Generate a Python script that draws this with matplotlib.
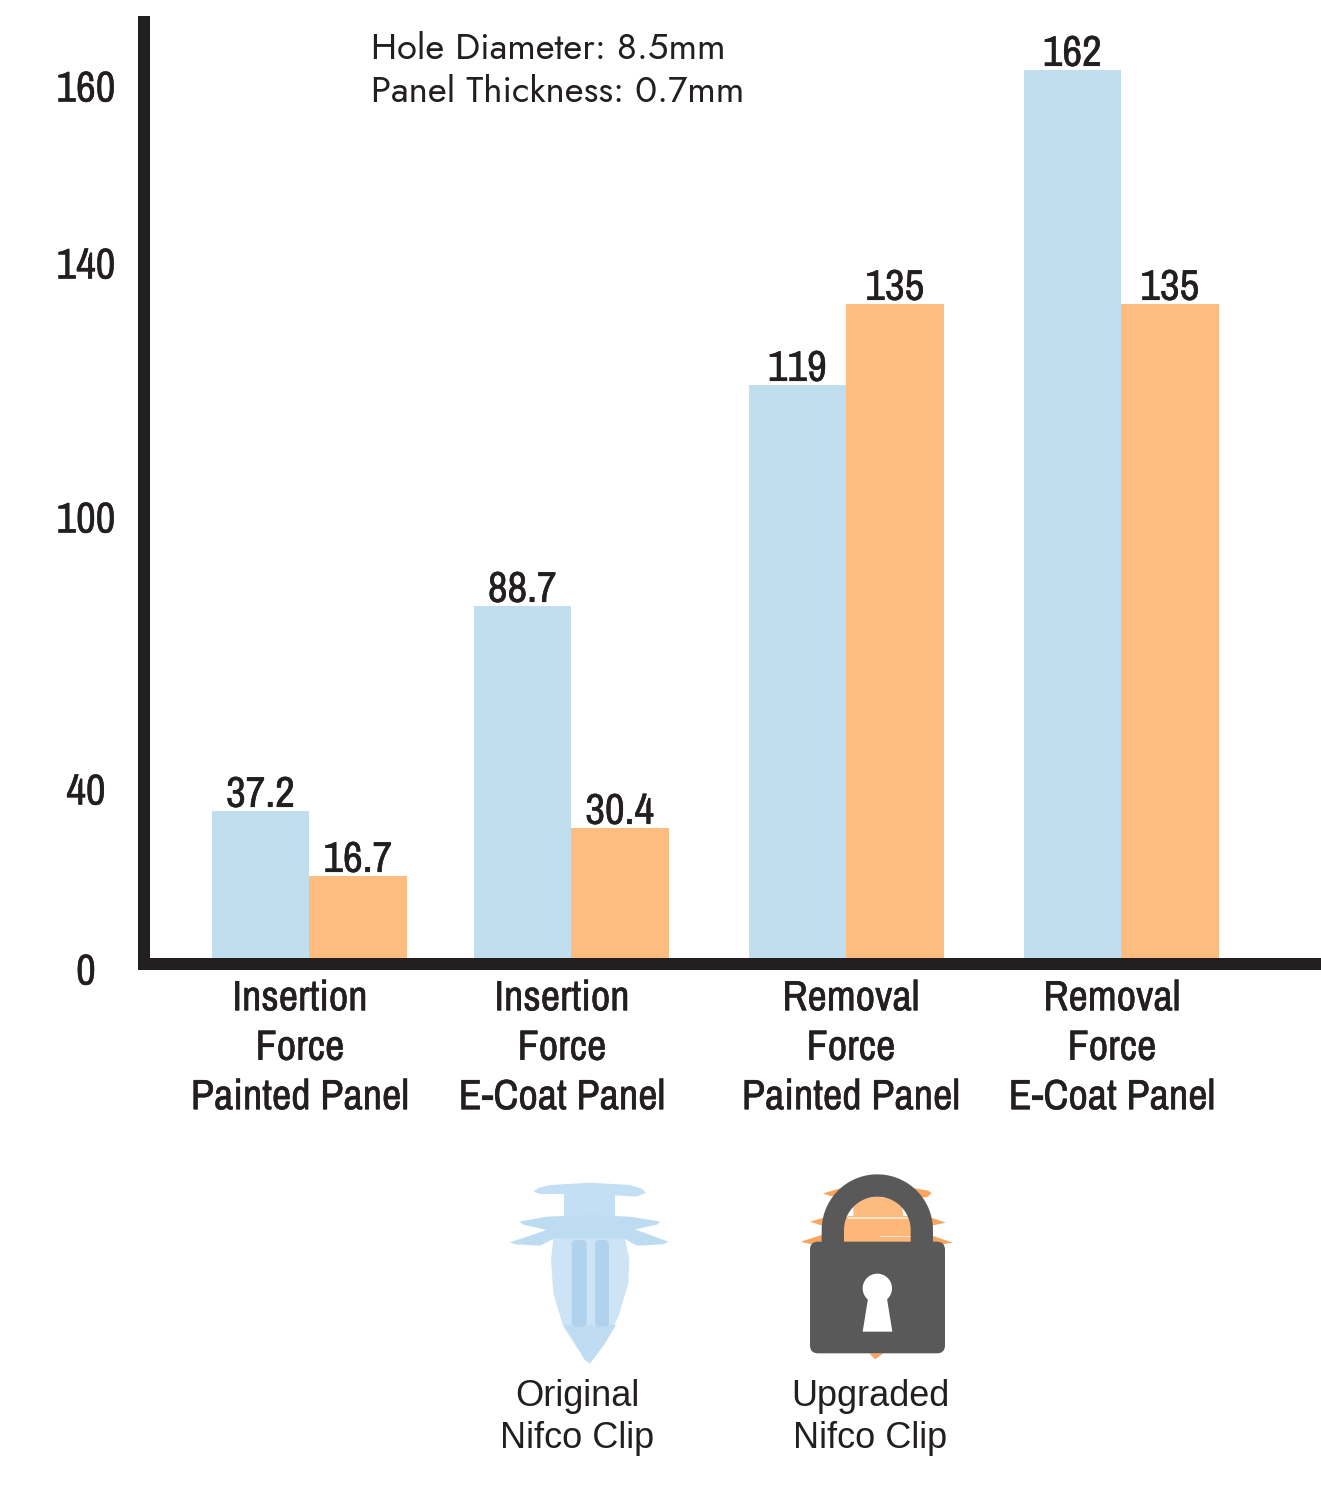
import numpy as np
import matplotlib
matplotlib.use('Agg')
import matplotlib.pyplot as plt
import matplotlib.patheffects as pe
from matplotlib.patches import Polygon, Circle, FancyBboxPatch
from matplotlib.transforms import ScaledTranslation

# data
categories = ['Insertion\nForce\nPainted Panel', 'Insertion\nForce\nE-Coat Panel',
              'Removal\nForce\nPainted Panel', 'Removal\nForce\nE-Coat Panel']
original = [37.2, 88.7, 119, 162]
upgraded = [16.7, 30.4, 135, 135]
value_labels_original = ['37.2', '88.7', '119', '162']
value_labels_upgraded = ['16.7', '30.4', '135', '135']
y_ticks = [0, 40, 100, 140, 160]

# the printed axis is not linear, so the scale goes through these points
scale_values = [-1, 0, 16.7, 30.4, 37.2, 40, 88.7, 100, 119, 135, 140, 160, 162, 170]
scale_pixels = [-6, 0, 82, 130, 147, 167, 352, 439, 573, 654, 693, 870, 888, 942]

DARK = '#231f20'
BLUE = '#c1deef'
ORANGE = '#febd80'
NARROW = ['Archivo Narrow', 'Liberation Sans']
# the original narrow type is a bit heavier than the regular weight here
HEAVY = [pe.withStroke(linewidth=0.35, foreground=DARK)]

W, H = 1321, 1500
dpi = 100
fig = plt.figure(figsize=(W / dpi, H / dpi), dpi=dpi)

ax = fig.add_axes([143.5 / W, (H - 964) / H, (W - 143.5) / W, (964 - 16) / H])
ax.set_xlim(143.5, W)
ax.set_yscale('function', functions=(
    lambda v: np.interp(v, scale_values, scale_pixels, left=-6, right=942),
    lambda p: np.interp(p, scale_pixels, scale_values, left=-1, right=170)))
ax.set_ylim(-1, 170)
ax.patch.set_alpha(0)

group_x = np.array([309, 571, 846, 1121])
bar_w = 97.5
ax.bar(group_x - bar_w / 2, original, bar_w, color=BLUE, linewidth=0)
ax.bar(group_x + bar_w / 2, upgraded, bar_w, color=ORANGE, linewidth=0)

for x, v, s in zip(group_x - bar_w / 2, original, value_labels_original):
    ax.annotate(s, (x, v), xytext=(0, 3), textcoords='offset points', ha='center', va='baseline',
                fontsize=31, family=NARROW, color=DARK, path_effects=HEAVY)
for x, v, s in zip(group_x + bar_w / 2, upgraded, value_labels_upgraded):
    ax.annotate(s, (x, v), xytext=(0, 3), textcoords='offset points', ha='center', va='baseline',
                fontsize=31, family=NARROW, color=DARK, path_effects=HEAVY)

for side in ['top', 'right']:
    ax.spines[side].set_visible(False)
for side in ['left', 'bottom']:
    ax.spines[side].set_linewidth(12 * 72 / dpi)
    ax.spines[side].set_color(DARK)
ax.spines['left'].set_capstyle('butt')

ax.set_yticks(y_ticks)
ax.set_yticklabels([str(t) for t in y_ticks], fontsize=31, family=NARROW, color=DARK, ha='center',
                   path_effects=HEAVY)
ax.yaxis.set_minor_locator(plt.NullLocator())
ax.tick_params(axis='y', length=0, pad=41.4)
# labels ride a little above their level, except the 0 which is below the baseline
for t, lab in zip(y_ticks, ax.get_yticklabels()):
    shift = -11 if t == 0 else 2
    lab.set_transform(lab.get_transform() + ScaledTranslation(0, shift / dpi, fig.dpi_scale_trans))

ax.set_xticks([300, 562, 851, 1112])
ax.set_xticklabels(categories, fontsize=30.5, family=NARROW, color=DARK, linespacing=1.37,
                   path_effects=HEAVY)
ax.tick_params(axis='x', length=0, pad=11)

# overlay in image pixels for notes and the two clip pictures
ov = fig.add_axes([0, 0, 1, 1])
ov.set_xlim(0, W)
ov.set_ylim(H, 0)
ov.axis('off')

note = dict(fontsize=26.3, family=['Jost', 'Lato', 'DejaVu Sans'], color=DARK, va='center', ha='left')
ov.text(371, 49, 'Hole Diameter: 8.5mm', **note)
ov.text(371, 92, 'Panel Thickness: 0.7mm', **note)

cap = dict(fontsize=26, family='Liberation Sans', color=DARK, va='center', ha='center')
ov.text(577, 1396, 'Original', **cap)
ov.text(577, 1438, 'Nifco Clip', **cap)
ov.text(870, 1396, 'Upgraded', **cap)
ov.text(870, 1438, 'Nifco Clip', **cap)


def poly(points, ox, oy, color, z=3):
    pts = [(ox + a / 3, oy + b / 3) for a, b in points]
    ov.add_patch(Polygon(pts, closed=True, fc=color, ec='none', zorder=z))


# original clip
ox, oy = 490, 1160
poly([(130, 95), (145, 84), (180, 75), (300, 68), (420, 75), (455, 86), (468, 98), (440, 110), (375, 106),
      (375, 170), (222, 170), (222, 102), (150, 102)], ox, oy, '#c3dff3')
poly([(88, 185), (170, 170), (300, 165), (420, 170), (512, 185), (500, 194), (435, 208), (535, 245), (520, 253),
      (440, 257), (405, 237), (190, 237), (150, 257), (75, 253), (60, 247), (170, 210), (100, 194)], ox, oy, '#bddcf2')
poly([(190, 235), (405, 235), (418, 300), (415, 370), (385, 470), (345, 550), (300, 610), (285, 600),
      (220, 500), (190, 400), (183, 300)], ox, oy, '#cde4f6', 4)
poly([(222, 495), (378, 495), (345, 550), (300, 610), (285, 600)], ox, oy, '#c0dcf2', 5)
for a, b in [(245, 290), (315, 357)]:
    ov.add_patch(FancyBboxPatch((ox + a / 3, oy + 240 / 3), (b - a) / 3, 260 / 3,
                                boxstyle='round,pad=0,rounding_size=5', fc='#b0d2ec', ec='none', zorder=6))

# upgraded clip behind the padlock
ox, oy = 780, 1160
ORG = '#f9a55f'
poly([(130, 100), (180, 85), (405, 85), (445, 92), (455, 100), (440, 112), (150, 108)], ox, oy, ORG)
poly([(90, 185), (125, 175), (460, 175), (497, 188), (460, 196), (125, 196)], ox, oy, ORG)
poly([(62, 245), (125, 225), (460, 228), (518, 248), (480, 254), (100, 254)], ox, oy, ORG)
poly([(268, 580), (310, 580), (285, 598)], ox, oy, ORG)
poly([(220, 172), (220, 130), (250, 116), (292, 110), (335, 116), (365, 130), (370, 172)], ox, oy, '#fdbb80', 4)
poly([(192, 180), (205, 168), (385, 168), (395, 180), (395, 246), (192, 246)], ox, oy, '#fdb778', 4)
poly([(205, 172), (385, 172), (385, 176), (205, 176)], ox, oy, '#fde3cc', 5)
poly([(300, 228), (392, 228), (392, 232), (300, 232)], ox, oy, '#fde3cc', 5)

GREY = '#595959'
ov.add_patch(FancyBboxPatch((ox + 90 / 3, oy + 245 / 3), 405 / 3, 335 / 3,
                            boxstyle='round,pad=0,rounding_size=8', fc=GREY, ec='none', zorder=7))
th = np.linspace(np.pi, 0, 50)
outer = [(292 + 167 * np.cos(t), 210 - 167 * np.sin(t)) for t in th]
inner = [(292 + 100 * np.cos(t), 210 - 100 * np.sin(t)) for t in th[::-1]]
poly([(125, 250)] + outer + [(459, 250), (392, 250)] + inner + [(192, 250)], ox, oy, GREY, 7)
ov.add_patch(Circle((ox + 292 / 3, oy + 385 / 3), 44 / 3, fc='white', ec='none', zorder=8))
poly([(265, 410), (320, 410), (337, 515), (248, 515)], ox, oy, 'white', 8)

fig.savefig('out.png', dpi=dpi)
